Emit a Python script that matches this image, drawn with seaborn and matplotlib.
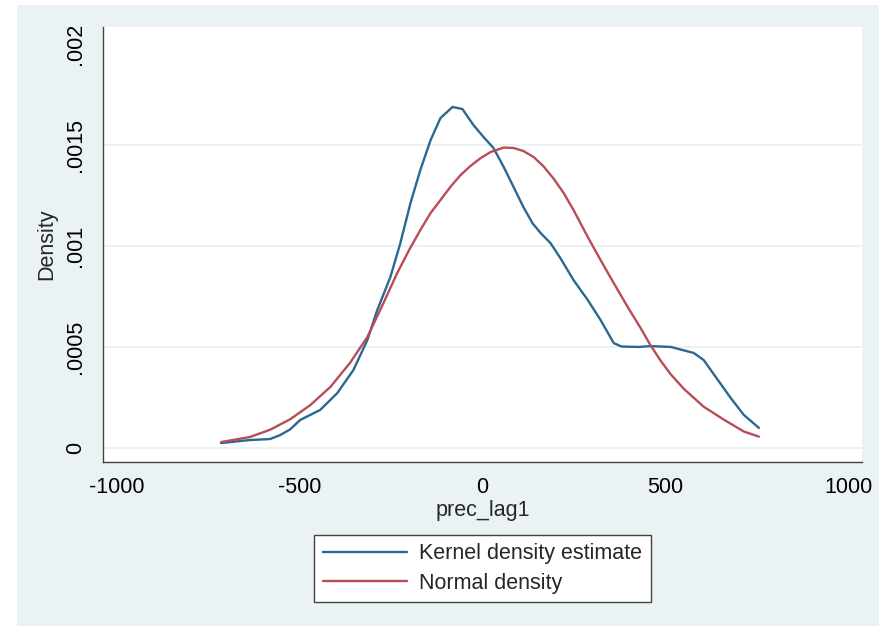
import numpy as np
import pandas as pd
import matplotlib
matplotlib.use("Agg")
import matplotlib.pyplot as plt
import seaborn as sns

# values
kde_x = [-715, -663, -636, -581, -553, -526, -499, -444, -397, -353, -315, -288,
         -252, -225, -197, -170, -142, -115, -82, -55, -25, 3, 30, 58, 85, 112,
         137, 159, 186, 214, 249, 288, 323, 359, 380, 427, 460, 515, 578, 605,
         638, 679, 715, 756]
kde_y = [0.000022, 0.000032, 0.000037, 0.000042, 0.000062, 0.000090, 0.000136,
         0.000186, 0.000270, 0.000384, 0.000532, 0.000680, 0.000844, 0.001010,
         0.001210, 0.001374, 0.001522, 0.001631, 0.001686, 0.001676, 0.001597,
         0.001537, 0.001483, 0.001389, 0.001290, 0.001190, 0.001110, 0.001062,
         0.001012, 0.000935, 0.000829, 0.000730, 0.000631, 0.000517, 0.000500,
         0.000498, 0.000502, 0.000498, 0.000468, 0.000433, 0.000349, 0.000245,
         0.000161, 0.000097]

norm_x = [-715, -636, -581, -526, -471, -416, -362, -315, -271, -233, -200, -170,
          -142, -115, -88, -60, -33, -5, 22, 58, 85, 112, 140, 167, 195, 222,
          249, 288, 323, 359, 397, 433, 460, 488, 515, 551, 605, 660, 715, 756]
norm_y = [0.000027, 0.000052, 0.000088, 0.000140, 0.000210, 0.000300, 0.000420,
          0.000547, 0.000715, 0.000865, 0.000980, 0.001077, 0.001161, 0.001225,
          0.001290, 0.001349, 0.001394, 0.001433, 0.001463, 0.001485, 0.001483,
          0.001468, 0.001438, 0.001392, 0.001330, 0.001260, 0.001176, 0.001042,
          0.000928, 0.000814, 0.000696, 0.000590, 0.000505, 0.000428, 0.000362,
          0.000290, 0.000202, 0.000138, 0.000079, 0.000054]

series_names = ["Kernel density estimate", "Normal density"]
x_ticks = [-1000, -500, 0, 500, 1000]
y_ticks = [0, 0.0005, 0.001, 0.0015, 0.002]
y_tick_labels = ["0", ".0005", ".001", ".0015", ".002"]

df = pd.concat([
    pd.DataFrame({"prec_lag1": kde_x, "Density": kde_y, "curve": series_names[0]}),
    pd.DataFrame({"prec_lag1": norm_x, "Density": norm_y, "curve": series_names[1]}),
])

sns.set_style("white")
plt.rcParams["font.family"] = ["Liberation Sans", "DejaVu Sans"]

W, H = 886, 628
fig = plt.figure(figsize=(W / 100, H / 100), dpi=100, facecolor="white")
# light outer region like Stata's graph region
fig.patches.append(plt.Rectangle((17 / W, 1 - 626 / H), (879 - 17) / W, (626 - 5) / H,
                                 transform=fig.transFigure, facecolor="#eaf2f3",
                                 edgecolor="none", zorder=-10))

ax = fig.add_axes([103 / W, 1 - 462 / H, (862 - 103) / W, (462 - 27) / H])
ax.set_facecolor("white")

palette = {series_names[0]: "#2b6891", series_names[1]: "#b84c57"}
sns.lineplot(data=df, x="prec_lag1", y="Density", hue="curve", palette=palette,
             linewidth=1.7, ax=ax, sort=False, estimator=None)

ax.set_xlim(-1038, 1038)
ax.set_ylim(-0.0000717, 0.002082)
ax.set_xticks(x_ticks)
ax.set_xticklabels([str(v) for v in x_ticks])
ax.set_yticks(y_ticks)
ax.set_yticklabels(y_tick_labels, rotation=90, va="center")

fs = 15.5
ax.tick_params(axis="both", direction="out", length=6, width=1.0, color="#444444",
               labelsize=fs, labelcolor="black")
ax.tick_params(axis="x", pad=5)
ax.tick_params(axis="y", pad=6)
ax.set_xlabel("prec_lag1", fontsize=fs, labelpad=1)
ax.set_ylabel("Density", fontsize=fs, labelpad=6)

ax.grid(axis="y", color="#eaf0f1", linewidth=1.3)
ax.yaxis.get_gridlines()[-1].set_visible(False)
ax.set_axisbelow(True)

for s in ["top", "right"]:
    ax.spines[s].set_visible(False)
for s in ["left", "bottom"]:
    ax.spines[s].set_color("#444444")
    ax.spines[s].set_linewidth(1.0)

handles, labels = ax.get_legend_handles_labels()
ax.get_legend().remove()
leg = fig.legend(handles, labels, loc="center",
                 bbox_to_anchor=(482.5 / W, 1 - 568.5 / H),
                 fontsize=fs, frameon=True, fancybox=False, framealpha=1,
                 edgecolor="#444444", handlelength=3.9, handletextpad=0.6,
                 labelspacing=0.4, borderpad=0.4, borderaxespad=0)
leg.get_frame().set_linewidth(1.0)

fig.savefig("out.png", dpi=100, facecolor=fig.get_facecolor())
